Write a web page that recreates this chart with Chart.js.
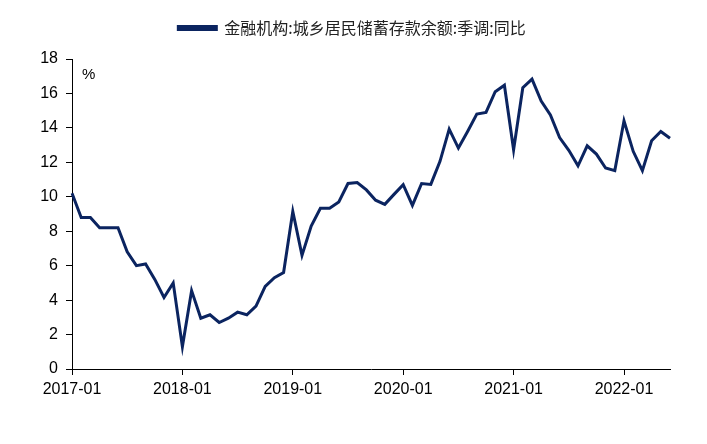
<!DOCTYPE html>
<html>
<head>
<meta charset="utf-8">
<script src="https://cdn.jsdelivr.net/npm/chart.js@4.4.0/dist/chart.umd.min.js"></script>
<style>
  html, body { margin: 0; padding: 0; background: #fff; }
  #wrap { width: 707px; height: 444px; position: relative; }
</style>
</head>
<body>
<div id="wrap"><canvas id="myChart"></canvas></div>
<script>
// months 2017-01 .. 2022-06
var months = []
for (var y = 2017; y <= 2022; y++) {
  for (var m = 1; m <= 12; m++) {
    if (y === 2022 && m > 6) break
    months.push(y + '-' + (m < 10 ? '0' + m : m))
  }
}

var seriesName = '金融机构:城乡居民储蓄存款余额:季调:同比'
var yoy = [
  10.2, 8.8, 8.8, 8.2, 8.2, 8.2, 6.8, 6.0, 6.1, 5.2, 4.15, 5.0,
  1.3, 4.55, 2.95, 3.15, 2.7, 2.95, 3.3, 3.15, 3.65, 4.8, 5.3, 5.6,
  9.15, 6.6, 8.3, 9.33, 9.33, 9.7, 10.77, 10.83, 10.4, 9.8, 9.56, 10.14,
  10.7, 9.5, 10.77, 10.72, 12.06, 13.93, 12.83, 13.79, 14.8, 14.9, 16.1, 16.48,
  12.73, 16.33, 16.83, 15.56, 14.75, 13.44, 12.7, 11.8, 12.96, 12.48, 11.67, 11.52,
  14.41, 12.64, 11.52, 13.25, 13.79, 13.4
]
var yTicks = [0, 2, 4, 6, 8, 10, 12, 14, 16, 18]

var navy = '#0b2460'

// nudge the legend: centred over the plot a bit to the right, and higher up
var legendShift = {
  id: 'legendShift',
  afterLayout: function (chart) {
    var lg = chart.legend
    lg.left += 34
    lg.top -= 13
    lg.bottom -= 13
  }
}

var unitLabel = {
  id: 'unitLabel',
  afterDraw: function (chart) {
    var ctx = chart.ctx
    ctx.save()
    ctx.font = '15px "Liberation Sans", Arial, sans-serif'
    ctx.fillStyle = '#000'
    ctx.textBaseline = 'middle'
    ctx.fillText('%', 82, 75)
    ctx.restore()
  }
}

var config = {
  type: 'line',
  data: {
    labels: months,
    datasets: [{
      label: seriesName,
      data: yoy,
      borderColor: navy,
      backgroundColor: navy,
      borderWidth: 3,
      pointRadius: 0,
      tension: 0
    }]
  },
  options: {
    responsive: true,
    maintainAspectRatio: false,
    animation: false,
    layout: { padding: { left: 0, right: 37, top: 21, bottom: 0 } },
    plugins: {
      tooltip: { enabled: false },
      legend: {
        position: 'top',
        labels: {
          boxWidth: 38,
          boxHeight: 3,
          padding: 12,
          color: '#222',
          font: { family: '"Noto Sans CJK SC", sans-serif', size: 16 }
        }
      }
    },
    scales: {
      x: {
        offset: false,
        grid: { drawOnChartArea: false, drawTicks: true, tickLength: 6, color: '#000' },
        border: { display: true, color: '#000', width: 1 },
        ticks: {
          autoSkip: false,
          maxRotation: 0,
          color: '#000',
          padding: 5,
          font: { family: '"Liberation Sans", Arial, sans-serif', size: 16 },
          callback: function (val, i) {
            var l = months[i]
            return l.slice(5) === '01' ? l : null
          }
        },
        afterFit: function (scale) { scale.height = 75 }
      },
      y: {
        min: 0,
        max: 18,
        grid: { drawOnChartArea: false, drawTicks: true, tickLength: 6, color: '#000' },
        border: { display: true, color: '#000', width: 1 },
        afterBuildTicks: function (scale) {
          scale.ticks = yTicks.map(function (v) { return { value: v } })
        },
        ticks: {
          color: '#000',
          padding: 8,
          font: { family: '"Liberation Sans", Arial, sans-serif', size: 16 }
        },
        afterFit: function (scale) { scale.width = 72 }
      }
    }
  },
  plugins: [legendShift, unitLabel]
}

var myChart = new Chart(document.getElementById('myChart'), config)
</script>
</body>
</html>
